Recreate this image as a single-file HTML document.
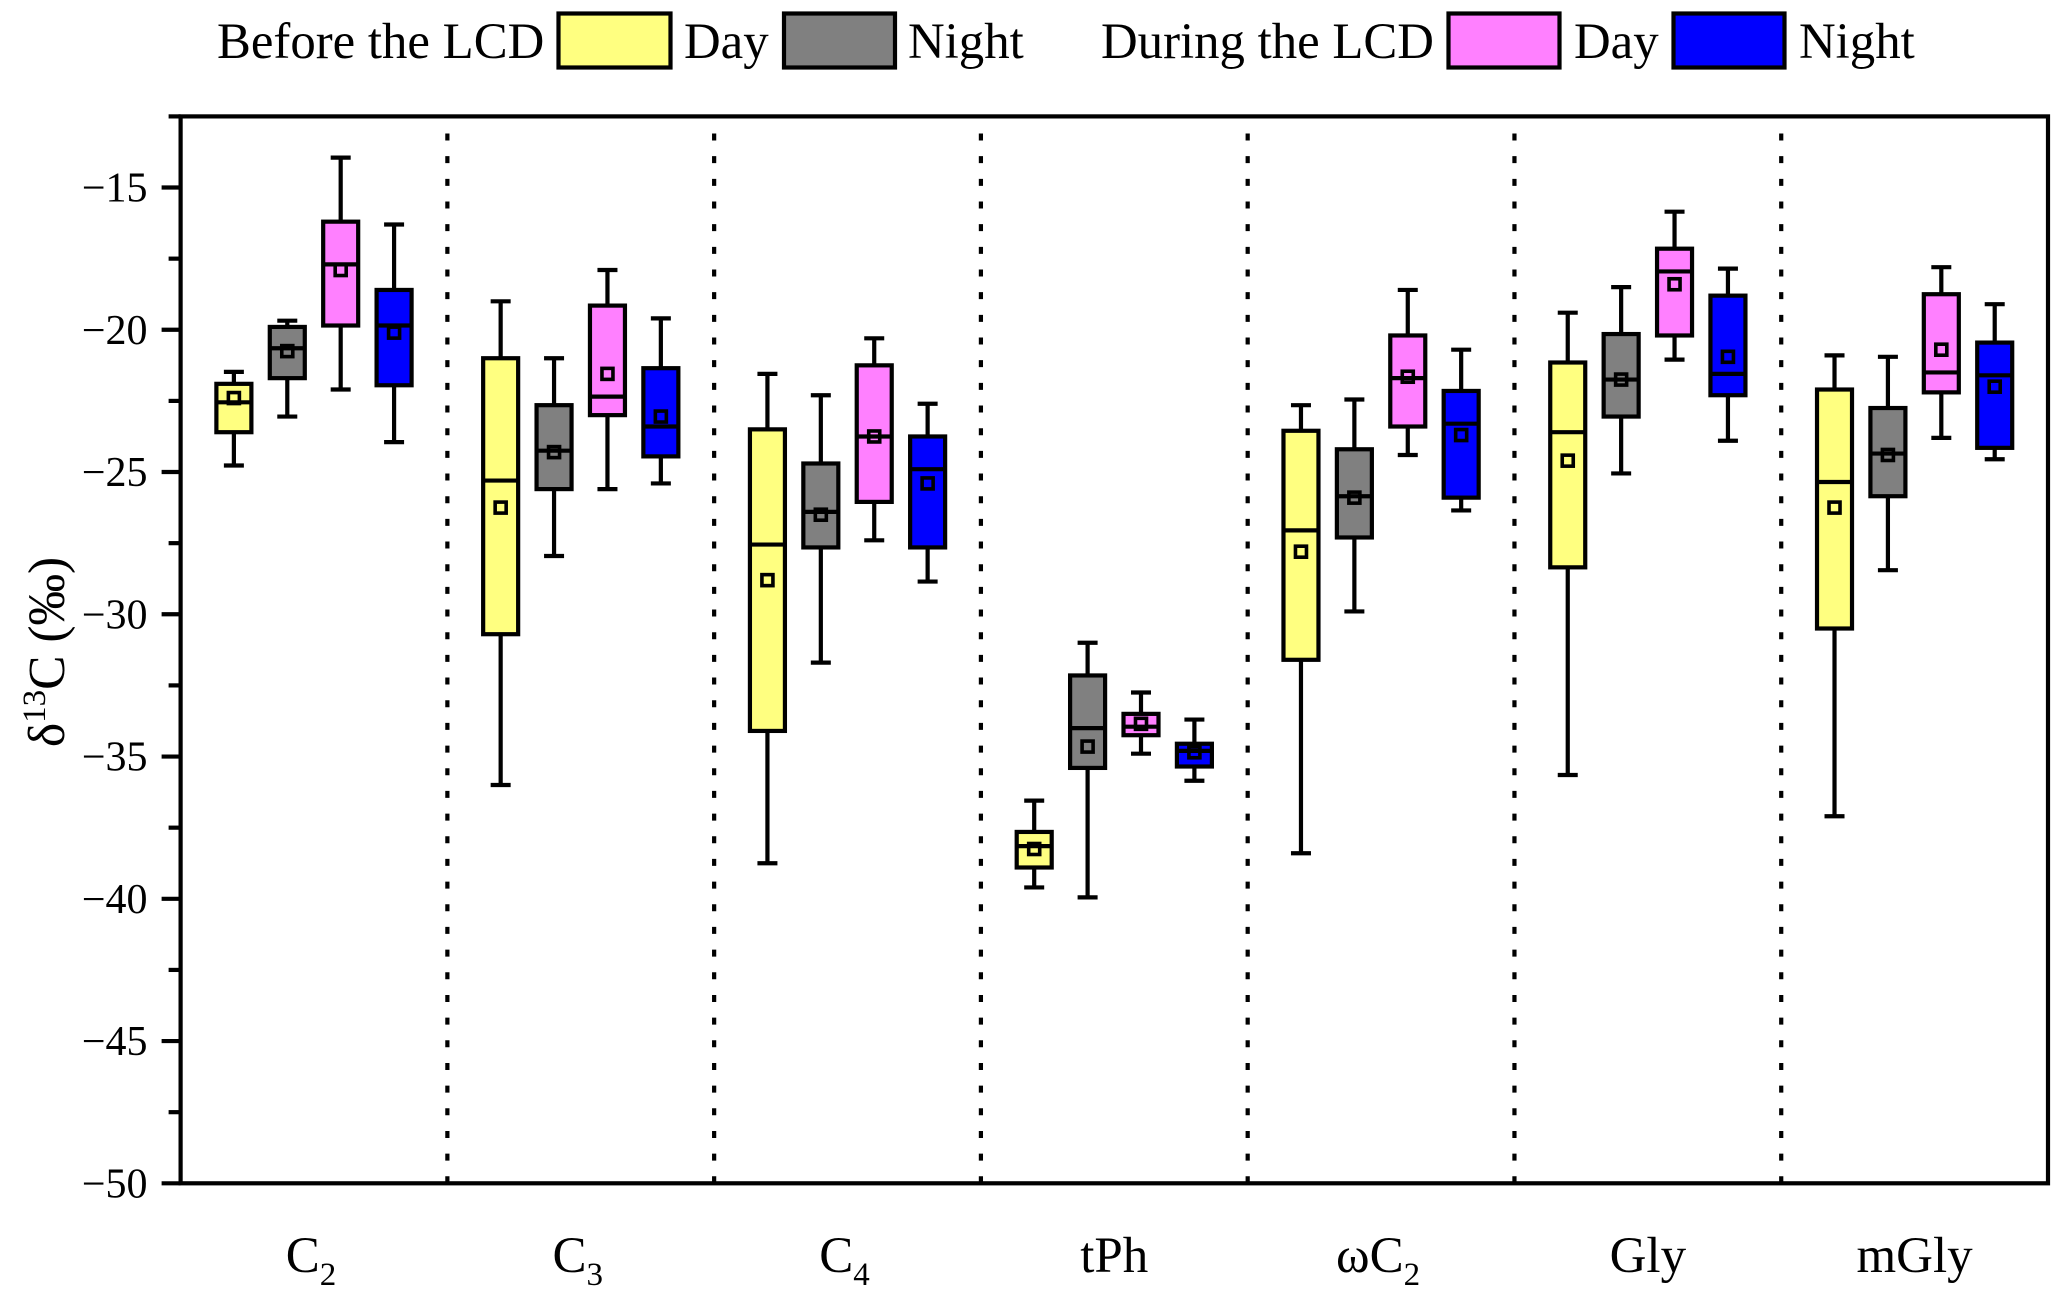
<!DOCTYPE html>
<html lang="en">
<head>
<meta charset="utf-8">
<title>Carbon isotope box plot</title>
<style>
html,body{margin:0;padding:0;background:#fff;width:2067px;height:1298px;overflow:hidden}
svg{display:block}
text{font-family:"Liberation Serif",serif;fill:#000}
</style>
</head>
<body>
<svg id="chart" xmlns="http://www.w3.org/2000/svg" width="2067" height="1298" viewBox="0 0 2067 1298">
  <g id="legend" font-size="50.8">
    <text x="217" y="58">Before the LCD</text>
    <rect x="558.5" y="13.5" width="112" height="54" fill="#FFFF80" stroke="#000" stroke-width="4.2"/>
    <text x="684" y="58">Day</text>
    <rect x="784" y="13.5" width="111" height="54" fill="#808080" stroke="#000" stroke-width="4.2"/>
    <text x="908" y="58">Night</text>
    <text x="1101" y="58">During the LCD</text>
    <rect x="1448.5" y="13.5" width="111" height="54" fill="#FF80FF" stroke="#000" stroke-width="4.2"/>
    <text x="1574" y="58">Day</text>
    <rect x="1673.5" y="13.5" width="111" height="54" fill="#0000FF" stroke="#000" stroke-width="4.2"/>
    <text x="1799" y="58">Night</text>
  </g>
  <g id="separators"></g>
  <g id="boxes"></g>
  <g id="axes"></g>
  <text transform="translate(64,652) rotate(-90)" text-anchor="middle" font-size="51.5">δ<tspan font-size="33" dy="-19">13</tspan><tspan dy="19">C (‰)</tspan></text>
  <g id="xlabels" font-size="51"></g>
</svg>
<script>
const categories = ["C2", "C3", "C4", "tPh", "ωC2", "Gly", "mGly"];
const seriesNames = ["before-day", "before-night", "during-day", "during-night"];
const seriesColors = ["#FFFF80", "#808080", "#FF80FF", "#0000FF"];
const majorTicks = [-15, -20, -25, -30, -35, -40, -45, -50];
const minorTicks = [-12.5, -17.5, -22.5, -27.5, -32.5, -37.5, -42.5, -47.5];
const tickLabels = ["−15", "−20", "−25", "−30", "−35", "−40", "−45", "−50"];

// Each row is one category; columns follow seriesNames.
const whiskerHigh = [
  [-21.48, -19.68, -13.95, -16.3],
  [-19, -21, -17.9, -19.6],
  [-21.55, -22.3, -20.3, -22.6],
  [-36.55, -31, -32.75, -33.7],
  [-22.65, -22.45, -18.6, -20.7],
  [-19.4, -18.5, -15.85, -17.85],
  [-20.9, -20.95, -17.8, -19.1]
];
const boxTop = [
  [-21.9, -19.9, -16.2, -18.6],
  [-21, -22.65, -19.15, -21.35],
  [-23.5, -24.7, -21.25, -23.75],
  [-37.65, -32.15, -33.5, -34.55],
  [-23.55, -24.2, -20.2, -22.15],
  [-21.15, -20.15, -17.15, -18.8],
  [-22.1, -22.75, -18.75, -20.45]
];
const medians = [
  [-22.55, -20.65, -17.7, -19.85],
  [-25.3, -24.25, -22.35, -23.4],
  [-27.55, -26.4, -23.75, -24.9],
  [-38.15, -34, -33.95, -34.8],
  [-27.05, -25.85, -21.7, -23.3],
  [-23.6, -21.75, -17.95, -21.55],
  [-25.35, -24.35, -21.5, -21.6]
];
const means = [
  [-22.4, -20.75, -17.9, -20.1],
  [-26.25, -24.3, -21.55, -23.05],
  [-28.8, -26.5, -23.75, -25.4],
  [-38.25, -34.65, -33.85, -34.85],
  [-27.8, -25.9, -21.65, -23.7],
  [-24.6, -21.75, -18.4, -20.95],
  [-26.25, -24.4, -20.7, -22]
];
const boxBottom = [
  [-23.6, -21.7, -19.85, -21.95],
  [-30.7, -25.6, -23, -24.45],
  [-34.1, -27.65, -26.05, -27.65],
  [-38.9, -35.4, -34.25, -35.35],
  [-31.6, -27.3, -23.4, -25.9],
  [-28.35, -23.05, -20.2, -22.3],
  [-30.5, -25.85, -22.2, -24.15]
];
const whiskerLow = [
  [-24.77, -23.05, -22.1, -23.95],
  [-36, -27.95, -25.6, -25.4],
  [-38.75, -31.7, -27.4, -28.85],
  [-39.6, -39.95, -34.9, -35.85],
  [-38.4, -29.9, -24.4, -26.35],
  [-35.65, -25.05, -21.05, -23.9],
  [-37.1, -28.45, -23.8, -24.55]
];

const NS = "http://www.w3.org/2000/svg";
const plotLeft = 180.6, plotRight = 2048, plotTop = 116.4, plotBottom = 1183.3;
const yMin = -50, yMax = -12.5;
const bandWidth = (plotRight - plotLeft) / categories.length;
const seriesStep = 53.4, boxWidth = 35, capWidth = 20, meanSize = 11, strokeW = 4.2;

function yScale(v) { return plotBottom - (v - yMin) / (yMax - yMin) * (plotBottom - plotTop); }
function bandCenter(i) { return plotLeft + bandWidth * (i + 0.5); }
function seriesX(i, s) { return bandCenter(i) + (s - (seriesNames.length - 1) / 2) * seriesStep; }
function make(tag, parent, attrs) {
  const el = document.createElementNS(NS, tag);
  for (const k in attrs) el.setAttribute(k, attrs[k]);
  parent.appendChild(el);
  return el;
}
function line(parent, x1, y1, x2, y2, w) {
  return make("line", parent, { x1: x1, y1: y1, x2: x2, y2: y2, stroke: "#000", "stroke-width": w, "stroke-linecap": "butt" });
}

const sepLayer = document.getElementById("separators");
for (let i = 1; i < categories.length; i++) {
  const x = plotLeft + bandWidth * i;
  const sep = line(sepLayer, x, plotBottom, x, plotTop, strokeW);
  sep.setAttribute("stroke-dasharray", "7 15.67");
  
  
}

const boxLayer = document.getElementById("boxes");
categories.forEach(function (cat, i) {
  seriesNames.forEach(function (name, s) {
    const x = seriesX(i, s);
    const g = make("g", boxLayer, {});
    
    
    const yHi = yScale(whiskerHigh[i][s]), yLo = yScale(whiskerLow[i][s]);
    const yTop = yScale(boxTop[i][s]), yBot = yScale(boxBottom[i][s]);
    const stem = line(g, x, yHi, x, yLo, strokeW);
    
    
    const capHi = line(g, x - capWidth / 2, yHi, x + capWidth / 2, yHi, strokeW);
    
    
    const capLo = line(g, x - capWidth / 2, yLo, x + capWidth / 2, yLo, strokeW);
    
    
    const body = make("rect", g, { x: x - boxWidth / 2, y: yTop, width: boxWidth, height: yBot - yTop, fill: seriesColors[s], stroke: "#000", "stroke-width": strokeW });
    
    
    const yMed = yScale(medians[i][s]);
    const med = line(g, x - boxWidth / 2, yMed, x + boxWidth / 2, yMed, strokeW);
    
    
    const yMean = yScale(means[i][s]);
    const mean = make("rect", g, { x: x - meanSize / 2, y: yMean - meanSize / 2, width: meanSize, height: meanSize, fill: "none", stroke: "#000", "stroke-width": 3.6 });
    
    
  });
});

const axes = document.getElementById("axes");
const frame = make("rect", axes, { x: plotLeft, y: plotTop, width: plotRight - plotLeft, height: plotBottom - plotTop, fill: "none", stroke: "#000", "stroke-width": strokeW });


majorTicks.forEach(function (v, k) {
  const y = yScale(v);
  const t = line(axes, plotLeft - 19, y, plotLeft, y, strokeW);
  
  
  const lab = make("text", axes, { x: 147.5, y: y + 14, "text-anchor": "end", "font-size": 42 });
  lab.textContent = tickLabels[k];
  
  
});
minorTicks.forEach(function (v) {
  const y = yScale(v);
  const t = line(axes, plotLeft - 12, y, plotLeft, y, strokeW);
  
  
});

const xLabels = document.getElementById("xlabels");
categories.forEach(function (cat, i) {
  const m = cat.match(/^(.*?)(\d)$/);
  const lab = make("text", xLabels, { x: bandCenter(i) - (m ? 3 : 0), y: 1272, "text-anchor": "middle" });
  
  
  if (m) {
    const a = make("tspan", lab, {});
    a.textContent = m[1];
    const b = make("tspan", lab, { "font-size": 33, dy: 13 });
    b.textContent = m[2];
  } else {
    lab.textContent = cat;
  }
});
</script>
</body>
</html>
